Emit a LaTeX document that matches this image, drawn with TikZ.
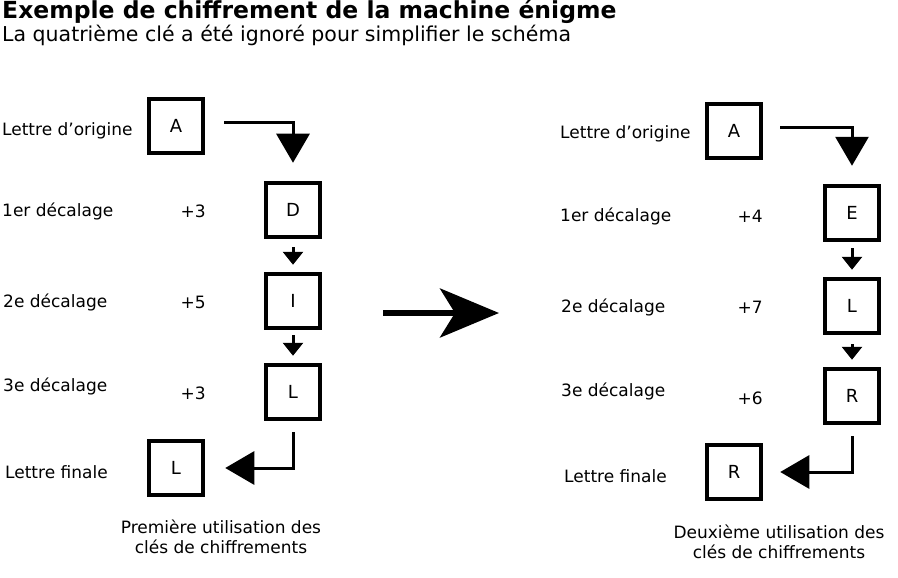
\documentclass[tikz,border=0pt]{standalone}
\usepackage{fontspec}
\setmainfont{DejaVu Sans}
\usetikzlibrary{arrows.meta}

\begin{document}
\begin{tikzpicture}[x=1pt,y=-1pt]
                \tikzstyle{every node}=[font=\fontsize{17}{20}\selectfont]
                \tikzstyle{lettre}=[draw, line width=4.5pt, minimum size=54pt, inner sep=0pt, font=\fontsize{18}{20}\selectfont]
                \tikzstyle{texte}=[anchor=west, inner sep=0pt]
                \tikzstyle{decal}=[anchor=east, inner sep=0pt]
                \tikzstyle{gros}=[line width=3pt, -{Triangle[width=33pt,length=29pt]}]
                \tikzstyle{petit}=[line width=3pt, -{Triangle[width=20pt,length=13pt]}]

                \useasboundingbox (0,0) rectangle (898,578);

                % titre
                \node[anchor=base west, inner sep=0pt, font=\bfseries\fontsize{23.5}{28}\selectfont] (titre) at (2,19) {Exemple de chiffrement de la machine énigme};
                \node[anchor=base west, inner sep=0pt, font=\fontsize{20.5}{24}\selectfont] (soustitre) at (2,42) {La quatrième clé a été ignoré pour simplifier le schéma};

                % premiere utilisation
                \node[texte] (t1) at (2,131) {Lettre d’origine};
                \node[texte] (t2) at (2,211) {1er décalage};
                \node[texte] (t3) at (3,302) {2e décalage};
                \node[texte] (t4) at (3,386) {3e décalage};
                \node[texte] (t5) at (5,472) {Lettre finale};
                \node[decal] (p1) at (206,211) {+3};
                \node[decal] (p2) at (206,302) {+5};
                \node[decal] (p3) at (206,393) {+3};

                \node[lettre] (a1) at (176,126) {A};
                \node[lettre] (d1) at (293,210) {D};
                \node[lettre] (i1) at (293,301) {I};
                \node[lettre] (l1) at (293,392) {L};
                \node[lettre] (f1) at (176,468) {L};

                \draw[gros, shorten >=18pt] ([xshift=19pt,yshift=3pt]a1.east) -| (d1.north);
                \draw[petit, shorten <=8pt, shorten >=7pt] (d1) -- (i1);
                \draw[petit, shorten <=5pt, shorten >=7pt] (i1) -- (l1);
                \draw[gros, shorten <=11pt, shorten >=20pt] (l1.south) |- (f1.east);

                \node[align=center] (c1) at (221,537) {Première utilisation des\\clés de chiffrements};

                % passage
                \coordinate (m1) at (383,313);
                \coordinate (m2) at (499,313);
                \draw[line width=6pt, -{Stealth[length=59pt,width=49pt,inset=15pt]}] (m1) -- (m2);

                % deuxieme utilisation
                \node[texte] (u1) at (560,134) {Lettre d’origine};
                \node[texte] (u2) at (560,216) {1er décalage};
                \node[texte] (u3) at (561,307) {2e décalage};
                \node[texte] (u4) at (561,391) {3e décalage};
                \node[texte] (u5) at (564,476) {Lettre finale};
                \node[decal] (q1) at (763,216) {+4};
                \node[decal] (q2) at (763,307) {+7};
                \node[decal] (q3) at (763,398) {+6};

                \node[lettre] (a2) at (734,131) {A};
                \node[lettre] (e2) at (852,213) {E};
                \node[lettre] (l2) at (852,306) {L};
                \node[lettre] (r2) at (852,396) {R};
                \node[lettre] (f2) at (734,472) {R};

                \draw[gros, shorten >=18pt] ([xshift=17pt,yshift=3pt]a2.east) -| (e2.north);
                \draw[petit, shorten <=6pt, shorten >=7pt] (e2) -- (l2);
                \draw[petit, shorten <=9pt, shorten >=7pt] (l2) -- (r2);
                \draw[gros, shorten <=11pt, shorten >=17pt] (r2.south) |- (f2.east);

                \node[align=center] (c2) at (779,542) {Deuxième utilisation des\\clés de chiffrements};
            \end{tikzpicture}
\end{document}
